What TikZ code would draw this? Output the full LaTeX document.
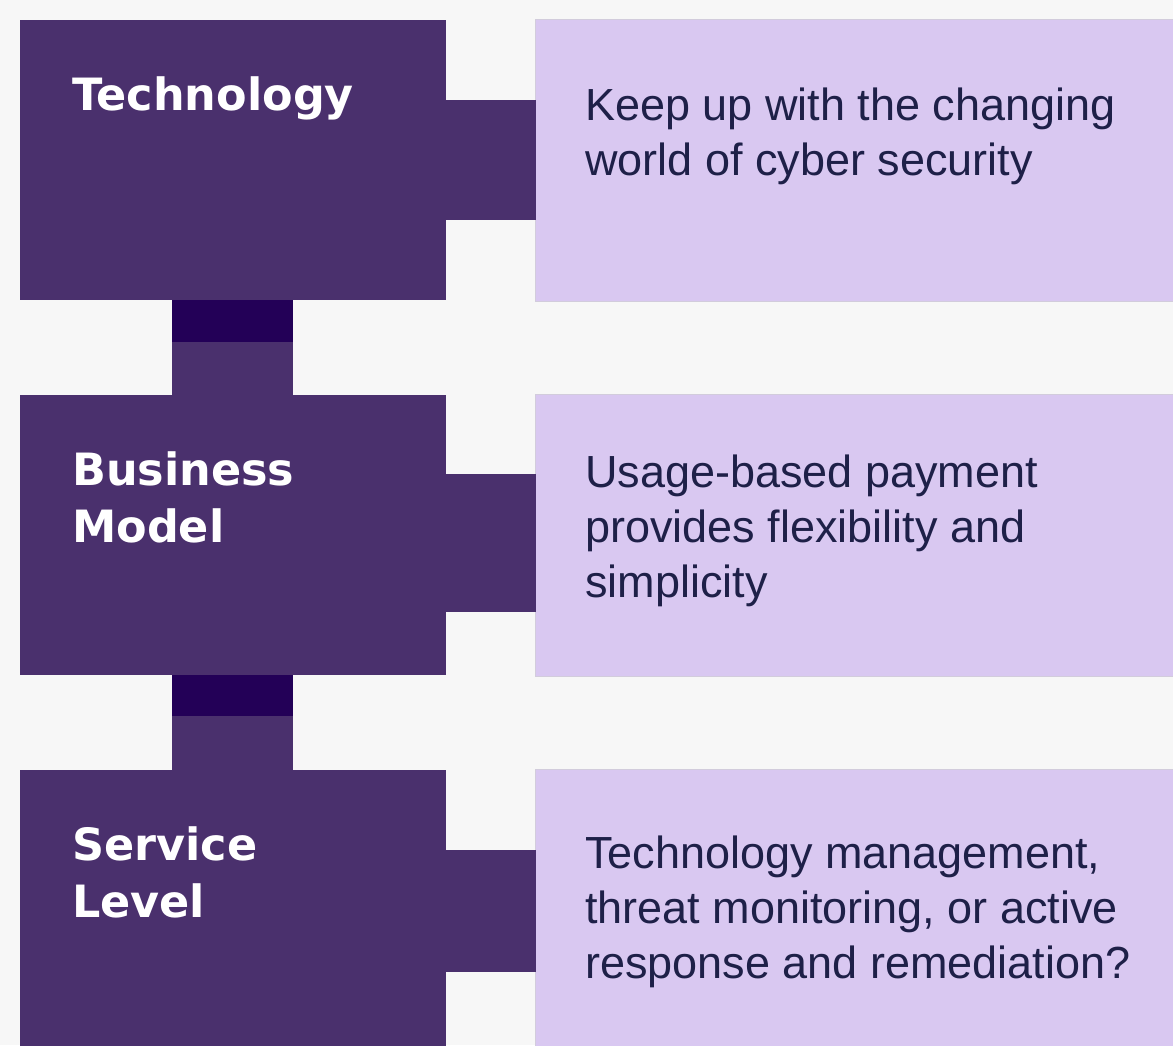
\documentclass[tikz,border=0pt]{standalone}
\usepackage{fontspec}
\setmainfont{Liberation Sans}
\newfontfamily\labelfont{DejaVu Sans}
\usetikzlibrary{calc}
\definecolor{bgc}{HTML}{F7F7F7}
\definecolor{darkc}{HTML}{4A306D}
\definecolor{deepc}{HTML}{230057}
\definecolor{lightc}{HTML}{D9C8F1}
\definecolor{lightedge}{HTML}{D2CCDC}
\definecolor{textc}{HTML}{1E2048}
\begin{document}
\begin{tikzpicture}[x=1pt,y=-1pt,
  darkbox/.style={fill=darkc, draw=none, inner sep=0pt, outer sep=0pt, anchor=north west, minimum width=426, minimum height=280},
  lightbox/.style={fill=lightc, draw=lightedge, line width=0.8pt, inner sep=0pt, outer sep=0pt, anchor=north west, minimum width=645, minimum height=282},
  lbl/.style={text=white, font=\labelfont\bfseries\fontsize{44.5}{57}\selectfont, align=left, anchor=north west, inner sep=0pt},
  desc/.style={text=textc, font=\fontsize{45}{55}\selectfont, align=left, anchor=north west, inner sep=0pt},
  link/.style={fill=darkc},
  joint/.style={fill=deepc}]
\fill[bgc] (0,0) rectangle (1173,1045);
\useasboundingbox (0,0) rectangle (1173,1045);

% dark boxes
\node[darkbox] (tech) at (20,20) {};
\node[darkbox] (bus) at (20,395) {};
\node[darkbox, minimum height=290] (serv) at (20,770) {};

% light boxes
\node[lightbox] (techd) at (535,19) {};
\node[lightbox] (busd) at (535,394) {};
\node[lightbox, minimum height=290] (servd) at (535,769) {};

% vertical links
\fill[link] ($(tech.south west)+(152,-1)$) rectangle ($(bus.north west)+(273,1)$);
\fill[joint] ($(tech.south west)+(152,0)$) rectangle ($(tech.south west)+(273,42)$);
\fill[link] ($(bus.south west)+(152,-1)$) rectangle ($(serv.north west)+(273,1)$);
\fill[joint] ($(bus.south west)+(152,0)$) rectangle ($(bus.south west)+(273,41)$);

% horizontal links
\fill[link] ($(tech.north east)+(-1,80)$) rectangle ($(techd.west |- tech.north)+(0.5,200)$);
\fill[link] ($(bus.north east)+(-1,79)$) rectangle ($(busd.west |- bus.north)+(0.5,217)$);
\fill[link] ($(serv.north east)+(-1,80)$) rectangle ($(servd.west |- serv.north)+(0.5,202)$);

% labels
\node[lbl] (techl) at ($(tech.north west)+(52,56)$) {Technology};
\node[lbl] (busl) at ($(bus.north west)+(52,56)$) {Business\\Model};
\node[lbl] (servl) at ($(serv.north west)+(52,56)$) {Service\\Level};

% descriptions
\node[desc] (techt) at (585,88) {Keep up with the changing\\world of cyber security};
\node[desc] (bust) at (585,455) {Usage-based payment\\provides flexibility and\\simplicity};
\node[desc] (servt) at (585,836) {Technology management,\\threat monitoring, or active\\response and remediation?};
\end{tikzpicture}
\end{document}
